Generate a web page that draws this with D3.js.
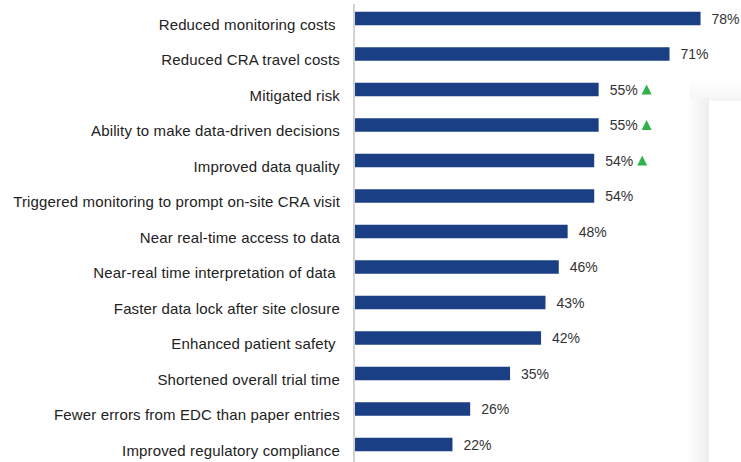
<!DOCTYPE html>
<html>
<head>
<meta charset="utf-8">
<script src="https://cdn.jsdelivr.net/npm/d3@7"></script>
<style>
  html, body { margin: 0; padding: 0; background: #fff; }
  svg { display: block; }
</style>
</head>
<body>
<svg id="chart"></svg>
<script>
const categories = [
  'Reduced monitoring costs ',
  'Reduced CRA travel costs',
  'Mitigated risk',
  'Ability to make data-driven decisions',
  'Improved data quality',
  'Triggered monitoring to prompt on-site CRA visit',
  'Near real-time access to data',
  'Near-real time interpretation of data ',
  'Faster data lock after site closure',
  'Enhanced patient safety ',
  'Shortened overall trial time',
  'Fewer errors from EDC than paper entries',
  'Improved regulatory compliance'
];
const values = [78, 71, 55, 55, 54, 54, 48, 46, 43, 42, 35, 26, 22];
const increased = [false, false, true, true, true, false, false, false, false, false, false, false, false];

const width = 741;
const height = 462;

const svg = d3.select('#chart').attr('width', width).attr('height', height);

// shadowed panel on the right edge
const defs = svg.append('defs');
const gx = defs.append('linearGradient').attr('id', 'shadeX').attr('x1', '0').attr('x2', '1').attr('y1', '0').attr('y2', '0');
gx.append('stop').attr('offset', '0%').attr('stop-color', '#fff');
gx.append('stop').attr('offset', '100%').attr('stop-color', '#eeeeee');
const gy = defs.append('linearGradient').attr('id', 'shadeY').attr('x1', '0').attr('x2', '0').attr('y1', '0').attr('y2', '1');
gy.append('stop').attr('offset', '0%').attr('stop-color', '#fff');
gy.append('stop').attr('offset', '100%').attr('stop-color', '#f4f4f4');

svg.append('rect').attr('x', 690).attr('y', 80).attr('width', 51).attr('height', 21).attr('fill', 'url(#shadeY)');
svg.append('rect').attr('x', 686).attr('y', 98).attr('width', 23).attr('height', height - 98).attr('fill', 'url(#shadeX)');
svg.append('rect').attr('x', 709).attr('y', 101).attr('width', 32).attr('height', height - 101).attr('fill', '#fff');

const x = d3.scaleLinear().domain([0, 100]).range([355, 798]);
const y = d3.scalePoint().domain(categories).range([18.5, 444.5]);
const barH = 13.5;

// axis line
svg.append('line')
  .attr('x1', 354).attr('x2', 354)
  .attr('y1', 4).attr('y2', height)
  .attr('stroke', '#c4c4c4').attr('stroke-width', 1.5);

const rows = svg.append('g').selectAll('g')
  .data(categories.map((c, i) => ({ cat: c, v: values[i], up: increased[i] })))
  .join('g');

rows.append('rect')
  .attr('x', x(0))
  .attr('y', d => y(d.cat) - barH / 2)
  .attr('width', d => x(d.v) - x(0))
  .attr('height', barH)
  .attr('fill', '#1b3f84');

rows.append('text')
  .attr('x', 340)
  .attr('y', d => y(d.cat) + 11)
  .attr('text-anchor', 'end')
  .style('white-space', 'pre')
  .style('letter-spacing', '0.15px')
  .attr('font-family', 'Liberation Sans, Arial, sans-serif')
  .attr('font-size', 15)
  .attr('fill', '#222')
  .text(d => d.cat);

rows.append('text')
  .attr('class', 'val')
  .attr('x', d => x(d.v) + 11)
  .attr('y', d => y(d.cat) + 5)
  .attr('font-family', 'Liberation Sans Narrow, Liberation Sans, Arial, sans-serif')
  .attr('font-size', 14)
  .attr('fill', '#333')
  .text(d => d.v + '%');

rows.filter(d => d.up).append('path')
  .attr('d', d => {
    const x0 = x(d.v) + 43;
    const cy = y(d.cat);
    return `M${x0},${cy + 5}L${x0 + 10},${cy + 5}L${x0 + 5},${cy - 5}Z`;
  })
  .attr('fill', '#2fb24c');
</script>
</body>
</html>
